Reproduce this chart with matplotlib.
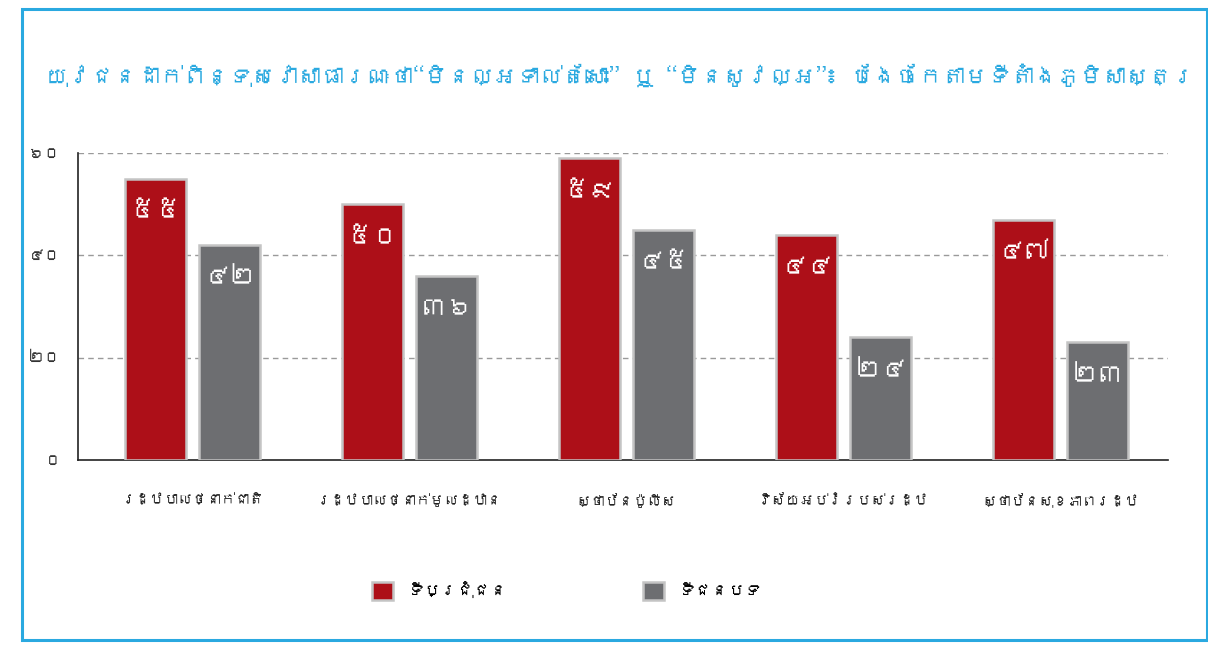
import matplotlib
matplotlib.use("Agg")
import matplotlib.pyplot as plt
from matplotlib import font_manager
from matplotlib.patches import Rectangle
import numpy as np

# ---------------- data ----------------
title = "យុវជនដាក់ពិន្ទុសេវាសាធារណៈថា“មិនល្អទាល់តែសោះ” ឬ “មិនសូវល្អ”៖ បែងចែកតាមទីតាំងភូមិសាស្ត្រ"
categories = ["រដ្ឋបាលថ្នាក់ជាតិ", "រដ្ឋបាលថ្នាក់មូលដ្ឋាន", "ស្ថាប័នប៉ូលីស",
              "វិស័យអប់រំរបស់រដ្ឋ", "ស្ថាប័នសុខភាពរដ្ឋ"]
series_names = ["ទីប្រជុំជន", "ទីជនបទ"]
urban = [55, 50, 59, 44, 47]
rural = [42, 36, 45, 24, 23]
yticks = [0, 20, 40, 60]

KH_DIGITS = "០១២៣៤៥៦៧៨៩"
def kh(n):
    return "".join(KH_DIGITS[int(c)] for c in str(n))

# ---------------- font detection ----------------
def find_khmer_fonts():
    names = []
    try:
        from fontTools.ttLib import TTFont
    except Exception:
        return names
    for fe in font_manager.fontManager.ttflist:
        try:
            f = TTFont(fe.fname, fontNumber=0, lazy=True)
            cmap = f.getBestCmap()
            if cmap and 0x1780 in cmap and 0x17E0 in cmap:
                if fe.name not in names:
                    names.append(fe.name)
        except Exception:
            pass
    return names

kh_fonts = find_khmer_fonts()
families = kh_fonts + ["DejaVu Sans"]
plt.rcParams['font.family'] = families

red = "#ad0f18"
gray = "#6d6e71"
edge = "#c4c4c4"
blue = "#2aa9e0"

fig = plt.figure(figsize=(12.08, 6.47), dpi=100)
W, H = 1208, 647
renderer = fig.canvas.get_renderer()

# frame border
fig.patches.append(Rectangle((22 / W, 7 / H), (1207 - 22) / W, (640 - 9) / H,
                             transform=fig.transFigure, fill=False,
                             edgecolor=blue, linewidth=2.2))

def fit_text(t, target_px, start_size):
    t.set_fontsize(start_size)
    w = t.get_window_extent(renderer=renderer).width
    if w > target_px:
        t.set_fontsize(start_size * target_px / w)

ttl = fig.text(45 / W, 1 - 75 / H, title, color=blue, fontsize=22,
               ha="left", va="center")
fit_text(ttl, 1150, 22)

ax = fig.add_axes([78 / W, 1 - 460 / H, (1168 - 78) / W, (460 - 153) / H])
x = np.arange(len(categories))
bw = 0.281
off = 0.171
b1 = ax.bar(x - off, urban, bw, color=red, edgecolor=edge, linewidth=1.8,
            label=series_names[0], zorder=3)
b2 = ax.bar(x + off, rural, bw, color=gray, edgecolor=edge, linewidth=1.8,
            label=series_names[1], zorder=3)

for bars, vals in ((b1, urban), (b2, rural)):
    for r, v in zip(bars, vals):
        ax.text(r.get_x() + r.get_width() / 2, v - 6.5, kh(v), color="white",
                fontsize=19, ha="center", va="center", zorder=4)

ax.set_xlim(-0.528, 4.495)
ax.set_ylim(0, 60)
ax.set_yticks(yticks)
ax.set_yticklabels([kh(t) for t in yticks], fontsize=12, color="#333333")
ax.set_xticks(x)
labs = ax.set_xticklabels(categories, fontsize=12, color="#222222")
# shrink category labels so the widest fits its group
ws = [l.get_window_extent(renderer=renderer).width for l in labs]
cat_size = min(12, 12 * 185 / max(ws)) if max(ws) > 0 else 12
for l in labs:
    l.set_fontsize(cat_size)
ax.tick_params(axis="x", length=0, pad=24)
ax.tick_params(axis="y", length=0, pad=12)
for t in yticks[1:]:
    ax.axhline(t, color="#9a9a9a", linestyle=(0, (4, 3)), linewidth=1, zorder=1)
ax.spines["top"].set_visible(False)
ax.spines["right"].set_visible(False)
ax.spines["left"].set_color("#222222")
ax.spines["bottom"].set_color("#222222")
ax.spines["left"].set_linewidth(1.2)
ax.spines["bottom"].set_linewidth(1.2)

leg_y = 1 - 591 / H
for handle, name, xpx in ((b1, series_names[0], 372), (b2, series_names[1], 643)):
    lg = fig.legend(handles=[handle], labels=[name], loc="center left",
                    bbox_to_anchor=(xpx / W, leg_y), frameon=False,
                    fontsize=12, handlelength=1.25, handleheight=1.25,
                    handletextpad=0.9, borderpad=0, borderaxespad=0)

fig.savefig("out.png", dpi=100)
